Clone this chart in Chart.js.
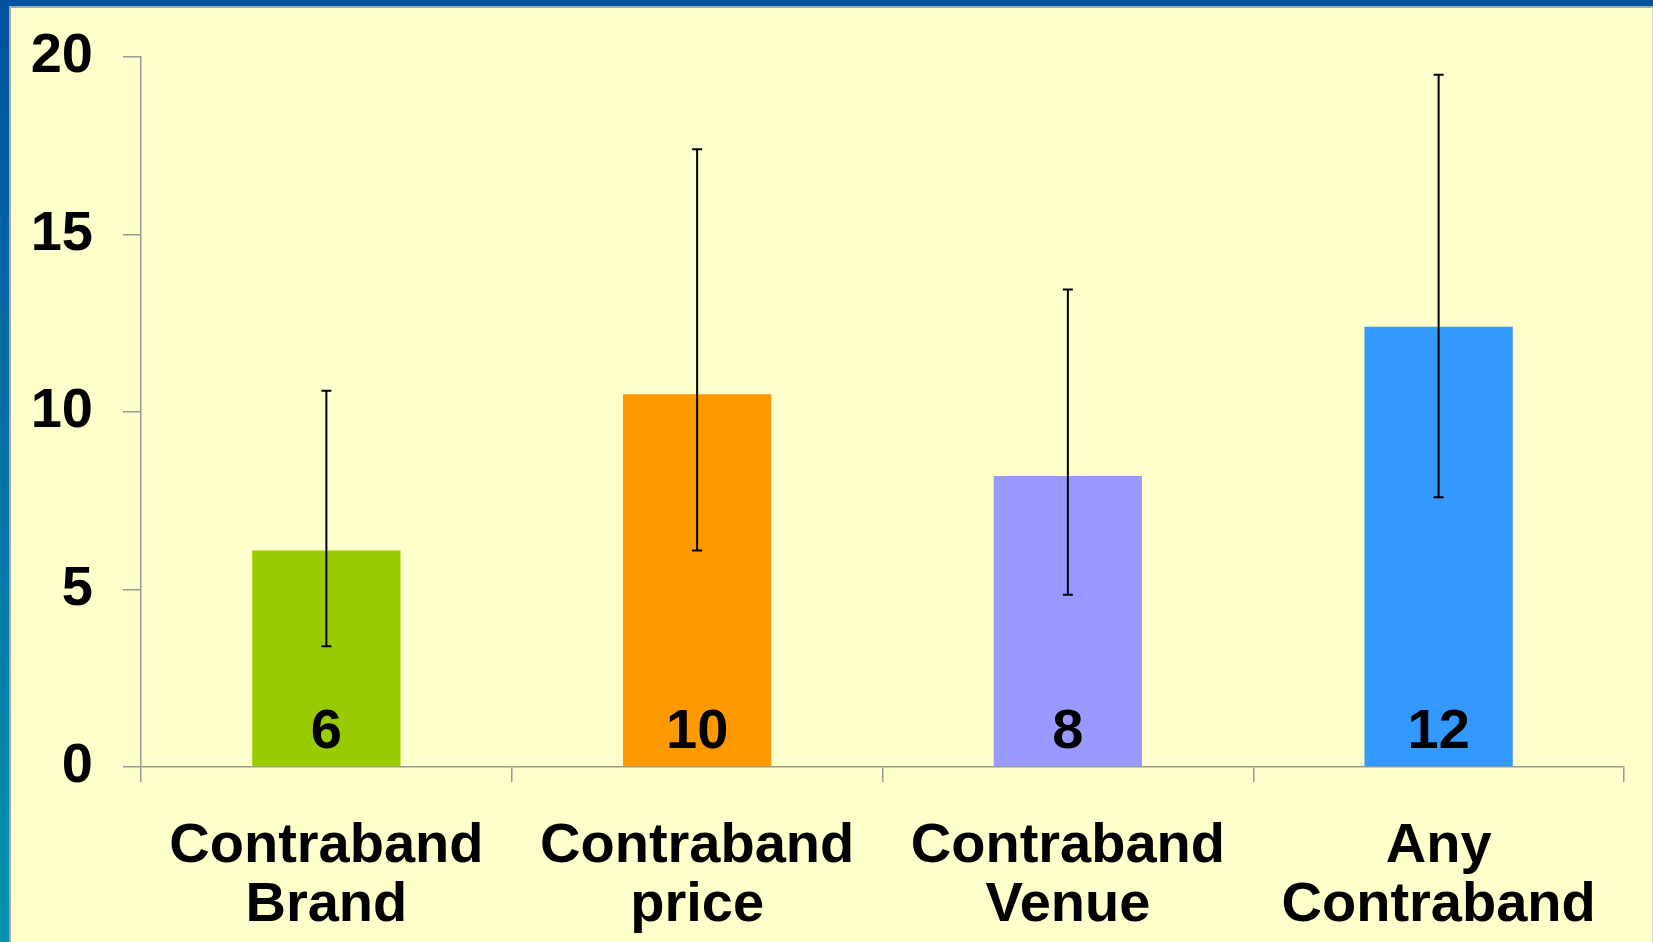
<!DOCTYPE html>
<html>
<head>
<meta charset="utf-8">
<script src="https://cdn.jsdelivr.net/npm/chart.js@4"></script>
<style>
  html, body { margin: 0; padding: 0; width: 1653px; height: 942px; overflow: hidden; }
  #frame { position: absolute; left: 0; top: 0; width: 1653px; height: 942px;
           background: linear-gradient(to bottom, #00529e, #0093ae); }
  #panel { position: absolute; left: 9px; top: 6px; right: 0; bottom: 0;
           background: #ffffcc; border-left: 2px solid #a8a8a0; border-top: 2px solid #a8a8a0;
           border-right: 1px solid #d8d8c0; box-sizing: border-box; }
  #chart { position: absolute; left: 0; top: 0; }
</style>
</head>
<body>
<div id="frame"></div>
<div id="panel"></div>
<canvas id="chart" width="1653" height="942"></canvas>
<script>
const categories = [['Contraband', 'Brand'], ['Contraband', 'price'], ['Contraband', 'Venue'], ['Any', 'Contraband']];
const values = [6.1, 10.5, 8.2, 12.4];
const errLow = [3.4, 6.1, 4.85, 7.6];
const errHigh = [10.6, 17.4, 13.45, 19.5];
const barLabels = ['6', '10', '8', '12'];
const barColors = ['#99cc00', '#ff9900', '#9999ff', '#3399ff'];
const yTicks = [0, 5, 10, 15, 20];

const fontFamily = '"Liberation Sans", Arial, sans-serif';

// error bars and the numbers at the foot of each bar
const errorBars = {
    id: 'errorBars',
    afterDatasetsDraw(chart) {
        const ctx = chart.ctx;
        const y = chart.scales.y;
        const meta = chart.getDatasetMeta(0);
        ctx.save();
        meta.data.forEach((bar, i) => {
            const cx = bar.x;
            const hi = y.getPixelForValue(errHigh[i]);
            const lo = y.getPixelForValue(errLow[i]);
            ctx.fillStyle = '#000';
            ctx.font = 'bold 56px ' + fontFamily;
            ctx.textAlign = 'center';
            ctx.textBaseline = 'alphabetic';
            ctx.fillText(barLabels[i], cx, y.getPixelForValue(0) - 19);
            ctx.strokeStyle = '#000';
            ctx.lineWidth = 2;
            ctx.beginPath();
            ctx.moveTo(cx, hi); ctx.lineTo(cx, lo);
            ctx.moveTo(cx - 5, hi); ctx.lineTo(cx + 5, hi);
            ctx.moveTo(cx - 5, lo); ctx.lineTo(cx + 5, lo);
            ctx.stroke();
        });
        ctx.restore();
    }
};

const ctx = document.getElementById('chart').getContext('2d');
const myChart = new Chart(ctx, {
    type: 'bar',
    data: {
        labels: categories,
        datasets: [{
            data: values,
            backgroundColor: barColors,
            borderWidth: 0,
            barPercentage: 0.4,
            categoryPercentage: 1
        }]
    },
    options: {
        responsive: false,
        animation: false,
        layout: { padding: { left: 10, top: 57, right: 29, bottom: 0 } },
        plugins: { legend: { display: false }, tooltip: { enabled: false } },
        scales: {
            y: {
                min: 0,
                max: 20,
                afterBuildTicks: scale => { scale.ticks = yTicks.map(v => ({ value: v })); },
                afterFit: scale => {
                    scale.width = 131;
                    // tick padding is only meant sideways here
                    scale.paddingTop = 0;
                    scale.paddingBottom = 0;
                },
                border: { color: '#999', width: 1.5 },
                grid: { drawOnChartArea: false, drawTicks: true, tickLength: 18, color: '#999', lineWidth: 1.5 },
                ticks: { color: '#000', padding: 30, font: { family: fontFamily, size: 56, weight: 'bold' } }
            },
            x: {
                afterFit: scale => { scale.height = 175; },
                border: { color: '#999', width: 1.5 },
                grid: { drawOnChartArea: false, drawTicks: true, tickLength: 15, color: '#999', lineWidth: 1.5, offset: true },
                ticks: { color: '#000', padding: 35, maxRotation: 0, autoSkip: false,
                         font: { family: fontFamily, size: 56, weight: 'bold', lineHeight: 1.05 } }
            }
        }
    },
    plugins: [errorBars]
});
</script>
</body>
</html>
